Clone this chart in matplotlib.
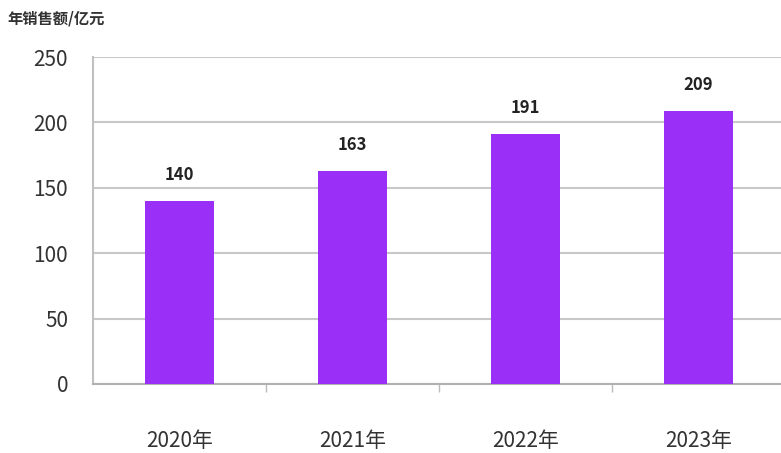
import matplotlib.pyplot as plt

plt.rcParams['font.family'] = ['Noto Sans CJK SC', 'DejaVu Sans']

years = ['2020年', '2021年', '2022年', '2023年']
sales = [140, 163, 191, 209]
yticks = [0, 50, 100, 150, 200, 250]

fig = plt.figure(figsize=(7.81, 4.53), dpi=100)
ax = fig.add_axes([93 / 781, 1 - 384 / 453, 692 / 781, 327 / 453])

x = list(range(len(years)))
ax.bar(x, sales, width=0.4, color='#9a30f8', zorder=3)
for xi, v in zip(x, sales):
    ax.text(xi, v + 13, str(v), ha='center', va='bottom', fontsize=12,
            fontweight='bold', color='#222222')

ax.set_xlim(-0.5, 3.5)
ax.set_ylim(0, 250)
ax.set_yticks(yticks)
ax.set_yticklabels([str(t) for t in yticks], fontsize=15, color='#333333')
ax.set_xticks(x)
ax.set_xticklabels(years, fontsize=15, color='#333333')
ax.tick_params(axis='y', length=0, pad=18)
ax.tick_params(axis='x', length=0, pad=33)

# category boundary ticks under the axis
ax.set_xticks([0.5, 1.5, 2.5], minor=True)
ax.tick_params(axis='x', which='minor', length=6, color='#bbbbbb', width=1)

ax.grid(axis='y', color='#c8c8c8', linewidth=1.5, zorder=0)
for s in ['top', 'right']:
    ax.spines[s].set_visible(False)
ax.spines['left'].set_color('#c0c0c0')
ax.spines['left'].set_linewidth(1.5)
ax.spines['bottom'].set_color('#b0b0b0')
ax.spines['bottom'].set_linewidth(1.5)

fig.text(7 / 781, 1 - 18 / 453, '年销售额/亿元', fontsize=11, fontweight='bold',
         color='#333333', ha='left', va='center')

fig.savefig('out.png', dpi=100)
